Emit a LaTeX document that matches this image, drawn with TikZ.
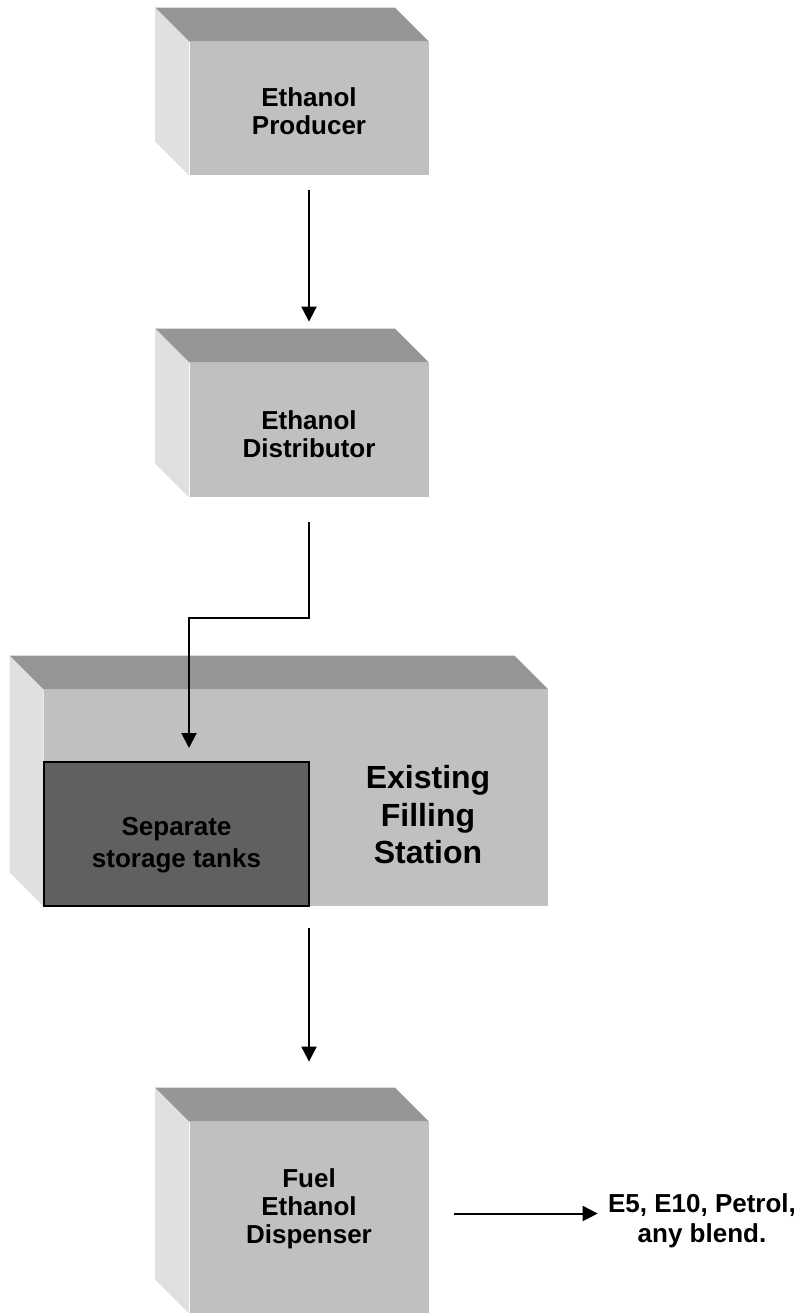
\documentclass[tikz,border=0pt]{standalone}
\usepackage{fontspec}
\setmainfont{Liberation Sans}
\usetikzlibrary{arrows.meta, calc}
\definecolor{cubeface}{HTML}{C0C0C0}
\definecolor{cubetop}{HTML}{969696}
\definecolor{cubeside}{HTML}{E0E0E0}
\definecolor{tankgray}{HTML}{606060}

\begin{document}
\begin{tikzpicture}[x=0.5pt, y=-0.5pt, font=\bfseries\fontsize{13}{14}\selectfont,
  front/.style={fill=cubeface, inner sep=0pt},
  flow/.style={-{Triangle[length=7.5pt, width=7.5pt]}, line width=1pt}]
  \useasboundingbox (0,0) rectangle (802,1315);
  % front faces of the three small blocks, text set as a centred label
  \foreach \y/\h/\dy/\name/\txt in {42/133/-1.5pt/prod/{Ethanol\\Producer}, 363/134/-2pt/dist/{Ethanol\\Distributor},
    1122/191/4.5pt/disp/{Fuel\\Ethanol\\Dispenser}}{
    \node[front, minimum width=119.5pt, minimum height=\h*0.5pt,
      label={[name=\name txt, align=center, yshift=\dy]center:\txt}] (\name) at (309,\y+\h/2) {};
  }
  % the station block
  \node[front, minimum width=252pt, minimum height=108pt] (station) at (296,798) {};
  % top and left faces
  \foreach \n in {prod,dist,station,disp}{
    \fill[cubetop] (\n.north west) -- ++(-34,-34) -- ([shift={(-34,-34)}]\n.north east) -- (\n.north east) -- cycle;
    \fill[cubeside] (\n.north west) -- ++(-34,-34) -- ([shift={(-34,-34)}]\n.south west) -- (\n.south west) -- cycle;
  }
  \node[draw, line width=1pt, fill=tankgray, minimum width=132.5pt, minimum height=72pt, inner sep=0pt,
    label={[name=tanktxt, align=center, yshift=-5.5pt, font=\bfseries\fontsize{13}{16}\selectfont]center:Separate\\storage tanks}]
    (tank) at (176.5,834) {};
  \node[align=center, font=\bfseries\fontsize{16}{18.75}\selectfont] (stationtxt) at (428,815) {Existing\\Filling\\Station};
  \node[align=center, inner sep=0pt, font=\bfseries\fontsize{13}{15}\selectfont] (blend) at (702,1221) {E5, E10, Petrol,\\any blend.};

  \draw[flow] ([yshift=-7.5pt]prod.south) -- ([yshift=20.5pt]dist.north);
  \draw[flow] ([yshift=-12.5pt]dist.south) -- ++(0,96) -| ([xshift=6.25pt, yshift=6.5pt]tank.north);
  \draw[flow] ($(station.south -| disp.north)+(0,22)$) -- ([yshift=30pt]disp.north);
  \draw[flow] ($(disp.east)+(25,-4)$) -- ($(disp.east -| blend.west)+(-10,-4)$);
\end{tikzpicture}
\end{document}
